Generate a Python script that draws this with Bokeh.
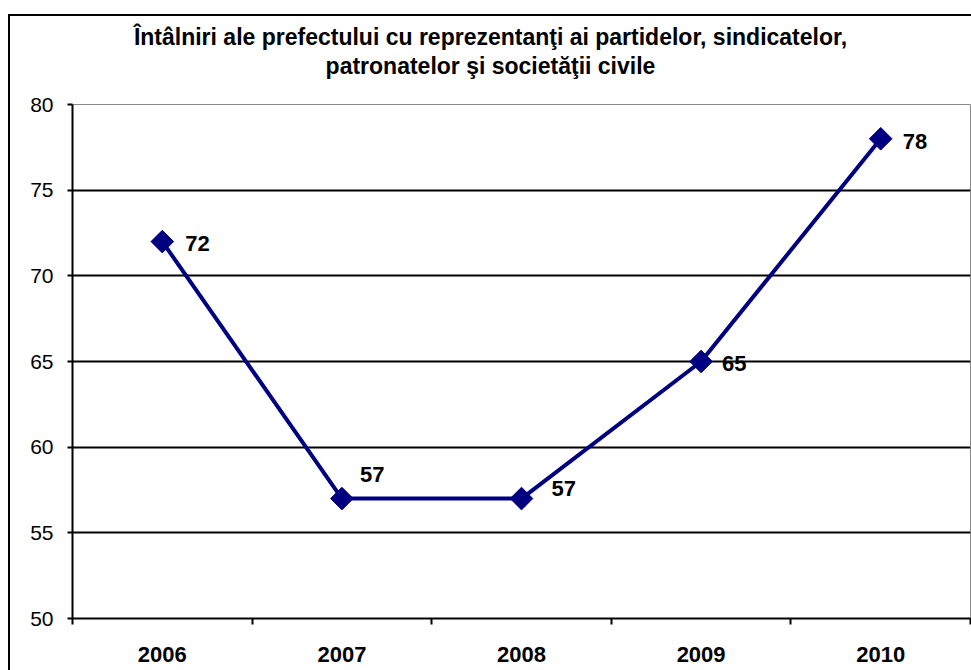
from bokeh.plotting import figure
from bokeh.models import ColumnDataSource, Range1d, FixedTicker, Div
from bokeh.layouts import column
from bokeh.core.properties import value
from bokeh.embed import file_html
from bokeh.resources import INLINE
import math

years = ["2006", "2007", "2008", "2009", "2010"]
meetings = [72, 57, 57, 65, 78]
y_ticks = [50, 55, 60, 65, 70, 75, 80]
title_lines = ["Întâlniri ale prefectului cu reprezentanţi ai partidelor, sindicatelor,",
               "patronatelor şi societăţii civile"]

# label placement (screen px offsets), styling only
label_dx = [23, 18, 30, 21, 22]
label_dy = [2, -24, -10, 2, 3]

FONT = "Liberation Sans"
NAVY = "#000080"

xs = [i + 0.5 for i in range(len(years))]
src = ColumnDataSource(dict(x=xs, y=meetings, lab=[str(v) for v in meetings],
                            dx=label_dx, dy=label_dy))

title_div = Div(
    text='<div style="display:block; width:920px; text-align:center; padding-left:41px; '
         'padding-top:7px; margin:0; font-family:\'Liberation Sans\'; font-weight:bold; '
         'font-size:23px; line-height:29px; color:black; white-space:nowrap;">'
         + "<br>".join(title_lines) + "</div>",
    width=961, height=74, margin=0)

p = figure(width=961, height=580, output_backend="svg", toolbar_location=None,
           title=None, margin=0,
           x_range=Range1d(0, len(years)), y_range=Range1d(y_ticks[0], y_ticks[-1]),
           min_border_left=62, min_border_right=1, min_border_top=14, min_border_bottom=52,
           background_fill_color="white", border_fill_color="white")

p.outline_line_color = "#888888"
p.outline_line_width = 1

# grid
p.xgrid.visible = False
p.ygrid.ticker = FixedTicker(ticks=y_ticks[1:-1])
p.ygrid.grid_line_color = "black"
p.ygrid.grid_line_width = 2

# y axis
p.yaxis.ticker = FixedTicker(ticks=y_ticks)
p.yaxis.axis_line_color = "black"
p.yaxis.axis_line_width = 2
p.yaxis.major_tick_line_color = "black"
p.yaxis.major_tick_line_width = 2
p.yaxis.major_tick_in = 0
p.yaxis.major_tick_out = 5
p.yaxis.minor_tick_line_color = None
p.yaxis.major_label_text_font = FONT
p.yaxis.major_label_text_font_size = "21px"
p.yaxis.major_label_text_color = "black"
p.yaxis.major_label_standoff = 14

# x axis: labels at category centres, tick marks at category boundaries
p.xaxis.ticker = FixedTicker(ticks=xs, minor_ticks=list(range(len(years) + 1)))
p.xaxis.major_label_overrides = {x: y for x, y in zip(xs, years)}
p.xaxis.axis_line_color = "black"
p.xaxis.axis_line_width = 2
p.xaxis.major_tick_line_color = None
p.xaxis.minor_tick_line_color = "black"
p.xaxis.minor_tick_line_width = 2
p.xaxis.minor_tick_in = 0
p.xaxis.minor_tick_out = 6
p.xaxis.major_label_text_font = FONT
p.xaxis.major_label_text_font_size = "22px"
p.xaxis.major_label_text_font_style = "bold"
p.xaxis.major_label_text_color = "black"
p.xaxis.major_label_standoff = 22

p.line("x", "y", source=src, line_color=NAVY, line_width=4)
p.scatter("x", "y", source=src, marker="square", size=16, angle=math.pi / 4,
          fill_color=NAVY, line_color=NAVY)
p.text("x", "y", text="lab", source=src, x_offset="dx", y_offset="dy",
       text_font=value(FONT), text_font_size="22px", text_font_style="bold",
       text_color="black", text_align="left", text_baseline="middle")

layout = column(title_div, p, spacing=0,
                styles={"border-left": "2px solid black", "border-top": "2px solid black",
                        "margin-top": "14px", "margin-left": "8px",
                        "background-color": "white"})

open("out.html", "w").write(file_html(layout, INLINE))
